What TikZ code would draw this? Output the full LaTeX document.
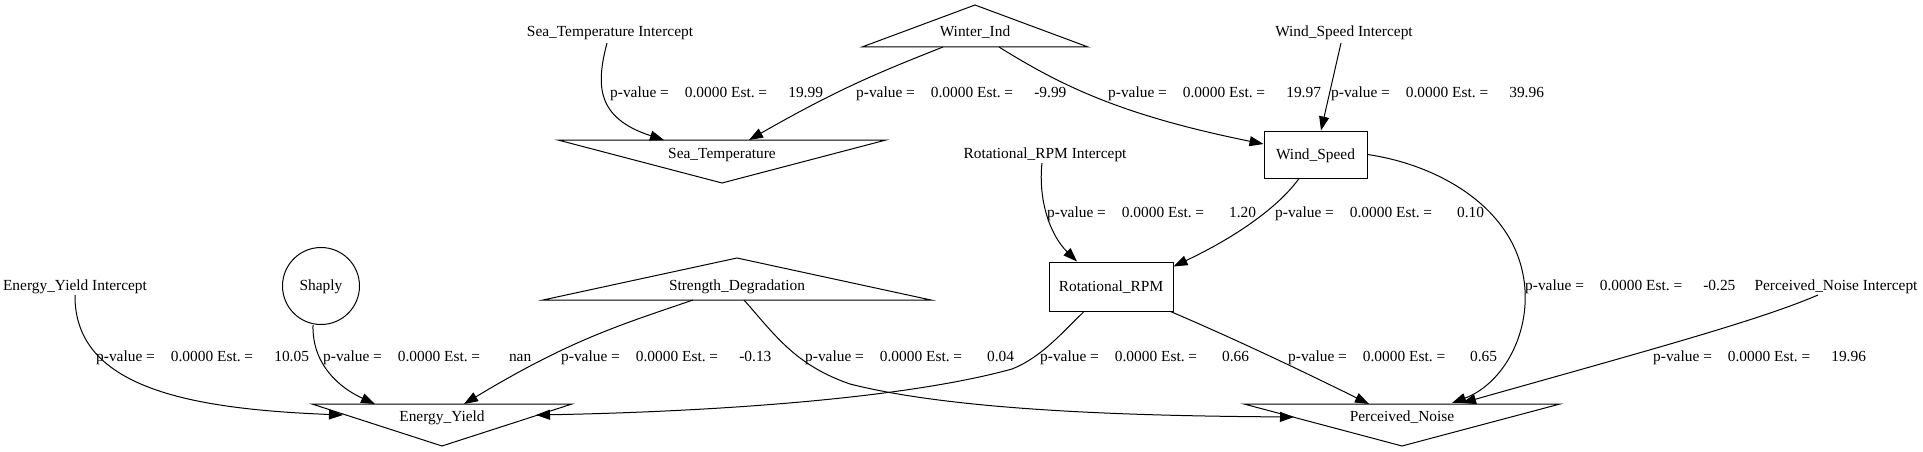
\documentclass[tikz,border=0pt]{standalone}
\usepackage{fontspec}
\setmainfont{Liberation Serif}
\usetikzlibrary{arrows.meta}
\newcommand\pvlbl[2]{p-value =\hspace{16pt}0.0000 Est. =\hspace{\dimexpr 9.6pt+#1\fontdimen2\font\relax}#2}
\newcommand\tridraw[4]{%
  \draw[shapeline] ([shift={(-#2,#4)}]#1.center) -- ([shift={(0,#3)}]#1.center) -- ([shift={(#2,#4)}]#1.center) -- cycle;}
\tikzset{
  every node/.style={font=\fontsize{15.4}{18}\selectfont, inner sep=0pt, text height=11pt, text depth=2pt},
  shapeline/.style={line width=1pt, line join=miter},
  boxnode/.style={draw, line width=1pt},
  lbl/.style={anchor=west},
  conn/.style={line width=1pt, -{Triangle[length=14pt,width=10pt]}},
}
\frenchspacing
\begin{document}
\begin{tikzpicture}[x=1pt,y=-1pt]
\useasboundingbox (0,0) rectangle (1923,452);
% nodes
\node (sti) at (610,32) {Sea\_Temperature Intercept};
\node (wi) at (975,32) {Winter\_Ind};
\node (wsi) at (1344,32) {Wind\_Speed Intercept};
\node (st) at (722,154) {Sea\_Temperature};
\node[boxnode, minimum width=103pt, minimum height=47pt] (ws) at (1315.5,154.5) {Wind\_Speed};
\node (rpmi) at (1045,154) {Rotational\_RPM Intercept};
\node[boxnode, minimum width=124pt, minimum height=49pt] (rpm) at (1111,286.5) {Rotational\_RPM};
\node (eyi) at (75,286) {Energy\_Yield Intercept};
\node[boxnode, circle, minimum size=77pt] (sh) at (321,286) {Shaply};
\node (sd) at (737,286) {Strength\_Degradation};
\node (pni) at (1836,286) {Perceived\_Noise Intercept};
\node (ey) at (442,417) {Energy\_Yield};
\node (pn) at (1402,417) {Perceived\_Noise};
% triangle outlines
\tridraw{wi}{113}{-27}{15}
\tridraw{st}{164}{29}{-14}
\tridraw{sd}{194}{-28}{14}
\tridraw{ey}{130}{29}{-13}
\tridraw{pn}{158}{29}{-13}
% connectors
\draw[conn] ([shift={(-3,11)}]sti.center) .. controls (596,85) and (596,118) .. ([shift={(-58,-14)}]st.center);
\draw[conn] ([shift={(-32,15)}]wi.center) .. controls (880,72) and (840,88) .. ([shift={(27,-14)}]st.center);
\draw[conn] ([shift={(24,15)}]wi.center) .. controls (1060,85) and (1120,115) .. ([shift={(0,-10.5)}]ws.west);
\draw[conn] ([shift={(-3,11)}]wsi.center) -- ([shift={(5.5,0)}]ws.north);
\draw[conn] ([shift={(-3,9)}]rpmi.center) .. controls (1038,200) and (1050,235) .. ([shift={(-34,0)}]rpm.north);
\draw[conn] ([shift={(-16.5,0)}]ws.south) .. controls (1280,205) and (1240,235) .. ([shift={(0,5)}]rpm.north east);
\draw[conn] (ws.east) .. controls (1440,165) and (1520,210) .. (1525,290) .. controls (1528,340) and (1500,385) .. ([shift={(50,-14)}]pn.center);
\draw[conn] ([shift={(-18,9)}]pni.center) .. controls (1760,320) and (1650,350) .. ([shift={(60,-14)}]pn.center);
\draw[conn] ([shift={(0,9)}]eyi.center) .. controls (74,388) and (190,409) .. ([shift={(-99,-2)}]ey.center);
\draw[conn] ([shift={(-8,0)}]sh.south) .. controls (312,365) and (340,388) .. ([shift={(-67,-13)}]ey.center);
\draw[conn] ([shift={(-44,14)}]sd.center) .. controls (620,325) and (570,340) .. ([shift={(22,-13)}]ey.center);
\draw[conn] ([shift={(-27,0)}]rpm.south) .. controls (1060,335) and (1040,358) .. (1012,369) .. controls (900,400) and (700,412) .. ([shift={(94,-2)}]ey.center);
\draw[conn] ([shift={(7,14)}]sd.center) .. controls (775,335) and (795,365) .. (850,384) .. controls (960,412) and (1150,416) .. ([shift={(-108,0)}]pn.center);
\draw[conn] ([shift={(-3,0)}]rpm.south east) .. controls (1230,337) and (1290,365) .. ([shift={(-33,-13)}]pn.center);
% edge labels
\node[lbl] (l1) at (610,93) {\pvlbl{3}{19.99}};
\node[lbl] (l2) at (856,93) {\pvlbl{3}{-9.99}};
\node[lbl] (l3) at (1108,93) {\pvlbl{3}{19.97}};
\node[lbl] (l4) at (1331,93) {\pvlbl{3}{39.96}};
\node[lbl] (l5) at (1047,213) {\pvlbl{4}{1.20}};
\node[lbl] (l6) at (1275,213) {\pvlbl{4}{0.10}};
\node[lbl] (l7) at (1525,286) {\pvlbl{3}{-0.25}};
\node[lbl] (l8) at (96,357) {\pvlbl{3}{10.05}};
\node[lbl] (l9) at (323,357) {\pvlbl{5}{nan}};
\node[lbl] (l10) at (561,357) {\pvlbl{3}{-0.13}};
\node[lbl] (l11) at (805,357) {\pvlbl{4}{0.04}};
\node[lbl] (l12) at (1040,357) {\pvlbl{4}{0.66}};
\node[lbl] (l13) at (1288,357) {\pvlbl{4}{0.65}};
\node[lbl] (l14) at (1653,357) {\pvlbl{3}{19.96}};
\end{tikzpicture}
\end{document}
